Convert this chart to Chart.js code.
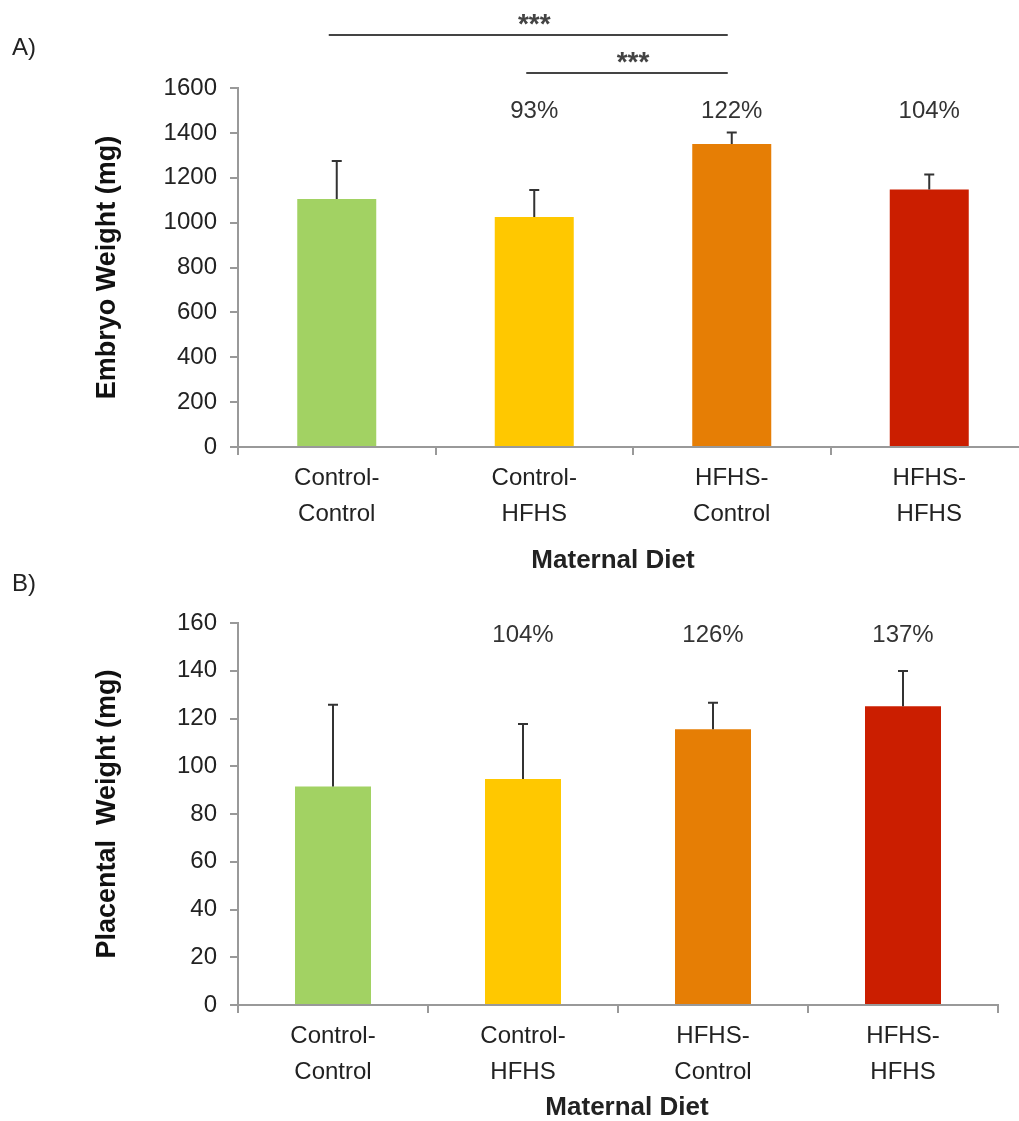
<!DOCTYPE html>
<html>
<head>
<meta charset="utf-8">
<script src="https://cdn.jsdelivr.net/npm/chart.js@4.4.1/dist/chart.umd.min.js"></script>
<style>
  html, body { margin: 0; padding: 0; background: #fff; overflow: hidden; }
  #wrapA { position: absolute; left: 0; top: 0; width: 1040px; height: 590px; }
  #wrapB { position: absolute; left: 0; top: 560px; width: 1019px; height: 561px; }
</style>
</head>
<body>
<div id="wrapA"><canvas id="embryoChart" width="1040" height="590"></canvas></div>
<div id="wrapB"><canvas id="placentaChart" width="1019" height="561"></canvas></div>
<script>
// categories and colours
var diets = [['Control-', 'Control'], ['Control-', 'HFHS'], ['HFHS-', 'Control'], ['HFHS-', 'HFHS']];
var barColors = ['#a2d263', '#ffc800', '#e67e05', '#cb1e00'];

// A) embryo weight
var embryoWeight = [1105, 1025, 1350, 1148];
var embryoError = [170, 120, 52, 67];
var embryoPercent = ['', '93%', '122%', '104%'];
var embryoTicks = [0, 200, 400, 600, 800, 1000, 1200, 1400, 1600];
var embryoBrackets = [
    { from: 0, to: 2, level: 1836, label: '***' },
    { from: 1, to: 2, level: 1667, label: '***' }
];

// B) placental weight
var placentaWeight = [91.5, 94.7, 115.5, 125.1];
var placentaError = [34.3, 23, 11.1, 14.8];
var placentaPercent = ['', '104%', '126%', '137%'];
var placentaTicks = [0, 20, 40, 60, 80, 100, 120, 140, 160];

var FONT = '"Liberation Sans", Arial, Helvetica, sans-serif';
Chart.defaults.font.family = FONT;
Chart.defaults.color = '#222';
Chart.defaults.animation = false;

// error bars, percentages, significance brackets, panel label, x title
function annotations(cfg) {
    return {
        id: 'annotations',
        afterDatasetsDraw: function (chart) {
            var ctx = chart.ctx, xs = chart.scales.x, ys = chart.scales.y;
            var bars = chart.getDatasetMeta(0).data;
            ctx.save();

            ctx.strokeStyle = '#333';
            ctx.lineWidth = 2;
            bars.forEach(function (bar, i) {
                var top = ys.getPixelForValue(cfg.values[i] + cfg.errors[i]);
                ctx.beginPath();
                ctx.moveTo(bar.x, bar.y);
                ctx.lineTo(bar.x, top);
                ctx.moveTo(bar.x - 5, top);
                ctx.lineTo(bar.x + 5, top);
                ctx.stroke();
            });

            ctx.fillStyle = '#333';
            ctx.font = '24px ' + FONT;
            ctx.textAlign = 'center';
            ctx.textBaseline = 'middle';
            cfg.percents.forEach(function (p, i) {
                if (p) ctx.fillText(p, bars[i].x, ys.getPixelForValue(cfg.percentLevel));
            });

            (cfg.brackets || []).forEach(function (b) {
                var x1 = xs.getPixelForValue(b.from) - 8;
                var x2 = xs.getPixelForValue(b.to) - 4;
                var yy = ys.getPixelForValue(b.level);
                ctx.strokeStyle = '#444';
                ctx.lineWidth = 2;
                ctx.beginPath();
                ctx.moveTo(x1, yy);
                ctx.lineTo(x2, yy);
                ctx.stroke();
                ctx.fillStyle = '#444';
                ctx.font = 'bold 28px ' + FONT;
                ctx.textBaseline = 'alphabetic';
                ctx.fillText(b.label, (x1 + x2) / 2 + 6, yy - 2);
            });

            ctx.fillStyle = '#222';
            ctx.font = '24px ' + FONT;
            ctx.textAlign = 'left';
            ctx.textBaseline = 'middle';
            ctx.fillText(cfg.panel, 12, cfg.panelY);

            ctx.font = 'bold 26px ' + FONT;
            ctx.textAlign = 'center';
            ctx.fillText('Maternal Diet', cfg.titleX, cfg.titleY);
            ctx.restore();
        }
    };
}

function makeChart(id, values, yTicks, yTitle, xHeight, padding, plugin) {
    return new Chart(id, {
        type: 'bar',
        data: {
            labels: diets,
            datasets: [{
                data: values,
                backgroundColor: barColors,
                borderWidth: 0,
                barPercentage: 0.4,
                categoryPercentage: 1
            }]
        },
        options: {
            responsive: false,
            layout: { padding: padding },
            plugins: { legend: { display: false }, tooltip: { enabled: false } },
            scales: {
                x: {
                    afterFit: function (s) { s.height = xHeight; },
                    grid: { offset: true, drawOnChartArea: false, color: '#999', lineWidth: 2, tickLength: 8 },
                    border: { color: '#999', width: 2 },
                    ticks: { autoSkip: false, maxRotation: 0, padding: 5, font: { size: 24, lineHeight: 1.5 }, color: '#222' }
                },
                y: {
                    min: yTicks[0],
                    max: yTicks[yTicks.length - 1],
                    afterFit: function (s) { s.width = 238; },
                    afterBuildTicks: function (s) { s.ticks = yTicks.map(function (v) { return { value: v }; }); },
                    grid: { drawOnChartArea: false, color: '#999', lineWidth: 2, tickLength: 8 },
                    border: { color: '#999', width: 2 },
                    ticks: {
                        padding: 13,
                        font: { size: 24 },
                        color: '#222',
                        callback: function (v) { return String(v); }
                    },
                    title: {
                        display: true,
                        text: yTitle,
                        color: '#111',
                        font: { size: 27, weight: 'bold' },
                        padding: { top: 91, bottom: 0 }
                    }
                }
            }
        },
        plugins: [plugin]
    });
}

makeChart('embryoChart', embryoWeight, embryoTicks, 'Embryo Weight (mg)', 143,
    { top: 88, left: 0, right: 12, bottom: 0 },
    annotations({
        values: embryoWeight, errors: embryoError, percents: embryoPercent, percentLevel: 1497,
        brackets: embryoBrackets, panel: 'A)', panelY: 48, titleX: 613, titleY: 561
    }));

makeChart('placentaChart', placentaWeight, placentaTicks, 'Placental  Weight (mg)', 116,
    { top: 63, left: 0, right: 21, bottom: 0 },
    annotations({
        values: placentaWeight, errors: placentaError, percents: placentaPercent, percentLevel: 155,
        brackets: [], panel: 'B)', panelY: 24, titleX: 627, titleY: 548
    }));
</script>
</body>
</html>
